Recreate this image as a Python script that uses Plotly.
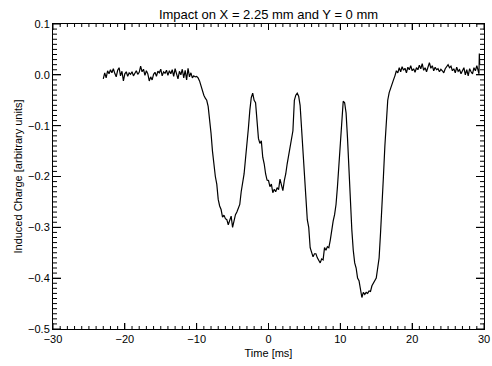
import plotly.graph_objects as go

# Time [ms]
time_ms = [
    -23.0, -22.8, -22.6, -22.4, -22.2, -22.0, -21.8, -21.6, -21.4, -21.2,
    -21.0, -20.8, -20.6, -20.4, -20.2, -20.0, -19.8, -19.6, -19.4, -19.2,
    -19.0, -18.8, -18.6, -18.4, -18.2, -18.0, -17.8, -17.6, -17.4, -17.2,
    -17.0, -16.8, -16.6, -16.4, -16.2, -16.0, -15.8, -15.6, -15.4, -15.2,
    -15.0, -14.8, -14.6, -14.4, -14.2, -14.0, -13.8, -13.6, -13.4, -13.2,
    -13.0, -12.8, -12.6, -12.4, -12.2, -12.0, -11.8, -11.6, -11.4, -11.2,
    -11.0, -10.8, -10.6, -10.4, -10.2, -10.0, -9.8,
    -9.6, -9.4, -9.2, -9.0, -8.8, -8.6, -8.4, -8.2, -8.0, -7.8,
    -7.6, -7.4, -7.2, -7.0, -6.8, -6.6, -6.4, -6.2, -6.0, -5.8,
    -5.6, -5.4, -5.2, -5.0, -4.8, -4.6, -4.4, -4.2, -4.0, -3.8,
    -3.6, -3.4, -3.2, -3.0, -2.8, -2.6, -2.4, -2.2, -2.0, -1.8,
    -1.6, -1.4, -1.2, -1.0, -0.8, -0.6, -0.4, -0.2, 0.0, 0.2,
    0.4, 0.6, 0.8, 1.0, 1.2, 1.4, 1.6, 1.8, 2.0, 2.2,
    2.4, 2.6, 2.8, 3.0, 3.2, 3.4, 3.6, 3.8, 4.0, 4.2,
    4.4, 4.6, 4.8, 5.0, 5.2, 5.4, 5.6, 5.8, 6.0, 6.2,
    6.4, 6.6, 6.8, 7.0, 7.2, 7.4, 7.6, 7.8, 8.0, 8.2,
    8.4, 8.6, 8.8, 9.0, 9.2, 9.4, 9.6, 9.8, 10.0, 10.2,
    10.4, 10.6, 10.8, 11.0, 11.2, 11.4, 11.6, 11.8, 12.0, 12.2,
    12.4, 12.6, 12.8, 13.0, 13.2, 13.4, 13.6, 13.8, 14.0, 14.2,
    14.4, 14.6, 14.8, 15.0, 15.2, 15.4, 15.6, 15.8, 16.0, 16.2,
    16.4, 16.6, 16.8, 17.0, 17.2, 17.4,
    17.6, 17.8, 18.0, 18.2, 18.4, 18.6, 18.8, 19.0, 19.2, 19.4,
    19.6, 19.8, 20.0, 20.2, 20.4, 20.6, 20.8, 21.0, 21.2, 21.4,
    21.6, 21.8, 22.0, 22.2, 22.4, 22.6, 22.8, 23.0, 23.2, 23.4,
    23.6, 23.8, 24.0, 24.2, 24.4, 24.6, 24.8, 25.0, 25.2, 25.4,
    25.6, 25.8, 26.0, 26.2, 26.4, 26.6, 26.8, 27.0, 27.2, 27.4,
    27.6, 27.8, 28.0, 28.2, 28.4, 28.6, 28.8, 29.0, 29.2, 29.3,
    29.35, 29.4,
]

# Induced charge [arbitrary units]
charge = [
    -0.008, 0.004, -0.006, 0.008, 0.002, 0.010, 0.004, 0.012, 0.003, -0.004,
    0.009, 0.014, -0.002, 0.007, -0.012, 0.002, 0.006, -0.003, 0.004, 0.001,
    0.006, -0.002, 0.003, 0.008, 0.001, 0.005, 0.017, 0.006, 0.011, -0.001,
    0.008, 0.002, -0.012, -0.004, -0.010, 0.001, 0.005, -0.003, 0.007, 0.004,
    0.011, -0.002, 0.006, 0.003, 0.009, -0.001, 0.008, 0.002, 0.010, -0.003,
    0.012, 0.004, -0.008, 0.007, 0.000, 0.011, -0.006, 0.009, -0.010, 0.013,
    -0.004, 0.004, -0.006, -0.002, -0.004, -0.003, -0.006,
    -0.012, -0.022, -0.030, -0.040, -0.046, -0.050, -0.062, -0.085, -0.115, -0.150,
    -0.180, -0.200, -0.215, -0.245, -0.258, -0.265, -0.280, -0.276, -0.283, -0.285,
    -0.295, -0.288, -0.278, -0.300, -0.285, -0.275, -0.270, -0.262, -0.255, -0.230,
    -0.215, -0.195, -0.165, -0.140, -0.105, -0.070, -0.045, -0.036, -0.050, -0.055,
    -0.085, -0.125, -0.135, -0.130, -0.162, -0.175, -0.195, -0.207, -0.208, -0.220,
    -0.215, -0.232, -0.225, -0.230, -0.222, -0.226, -0.205, -0.215, -0.228, -0.208,
    -0.195, -0.175, -0.160, -0.148, -0.130, -0.110, -0.050, -0.040, -0.036, -0.042,
    -0.060, -0.100, -0.140, -0.190, -0.240, -0.285, -0.300, -0.340, -0.350, -0.358,
    -0.352, -0.352, -0.360, -0.365, -0.370, -0.362, -0.364, -0.340, -0.345, -0.338,
    -0.340, -0.325, -0.300, -0.288, -0.275, -0.255, -0.220, -0.175, -0.135, -0.080,
    -0.052, -0.055, -0.075, -0.125, -0.185, -0.260, -0.305, -0.345, -0.370, -0.380,
    -0.400, -0.405, -0.425, -0.438, -0.428, -0.432, -0.428, -0.430, -0.425, -0.426,
    -0.415, -0.410, -0.404, -0.400, -0.380, -0.360, -0.310, -0.265, -0.200, -0.140,
    -0.085, -0.050, -0.035, -0.025, -0.018, -0.010,
    -0.002, 0.008, 0.004, 0.014, 0.006, 0.016, 0.009, 0.013, 0.004, 0.015,
    0.010, 0.018, 0.008, 0.012, 0.005, 0.014, 0.010, 0.019, 0.012, 0.022,
    0.009, 0.014, 0.006, 0.016, 0.024, 0.013, 0.018, 0.008, 0.015, 0.010,
    0.012, 0.006, 0.011, 0.008, 0.004, 0.012, 0.016, 0.020, 0.014, 0.017,
    0.008, 0.012, 0.004, 0.015, 0.007, 0.010, 0.002, 0.009, 0.014, 0.000,
    0.010, -0.002, 0.012, 0.006, 0.002, 0.014, 0.008, 0.018, 0.004, 0.002,
    0.042, 0.020,
]

X_RANGE = [-30, 30]
Y_RANGE = [-0.5, 0.1]

W, H = 492, 366
M_L, M_R, M_T, M_B = 53, 8, 24, 37
plot_w = W - M_L - M_R
plot_h = H - M_T - M_B
x_per_px = (X_RANGE[1] - X_RANGE[0]) / plot_w
y_per_px = (Y_RANGE[1] - Y_RANGE[0]) / plot_h

# axis tick frame (IDL style: inside ticks on all four sides)
tick_x, tick_y = [], []
for k in range(0, 61):                       # x ticks every 1 ms, major every 10
    xv = X_RANGE[0] + k
    ln = (6 if k % 10 == 0 else 3) * y_per_px
    tick_x += [xv, xv, None, xv, xv, None]
    tick_y += [Y_RANGE[0], Y_RANGE[0] + ln, None, Y_RANGE[1], Y_RANGE[1] - ln, None]
for k in range(0, 61):                       # y ticks every 0.01, major every 0.1
    yv = round(Y_RANGE[0] + k * 0.01, 3)
    ln = (8 if k % 10 == 0 else 4) * x_per_px
    tick_x += [X_RANGE[0], X_RANGE[0] + ln, None, X_RANGE[1], X_RANGE[1] - ln, None]
    tick_y += [yv, yv, None, yv, yv, None]

fig = go.Figure()
fig.add_trace(go.Scatter(
    x=tick_x, y=tick_y, mode="lines",
    line=dict(color="black", width=1), hoverinfo="skip",
    showlegend=False, connectgaps=False,
))
fig.add_trace(go.Scatter(
    x=time_ms, y=charge, mode="lines",
    line=dict(color="black", width=1.2),
    showlegend=False, hoverinfo="skip",
))

font_family = "Liberation Sans, Arial, Helvetica, sans-serif"

fig.update_layout(
    width=W, height=H,
    margin=dict(l=M_L, r=M_R, t=M_T, b=M_B, autoexpand=False),
    paper_bgcolor="white", plot_bgcolor="white",
    font=dict(family=font_family, size=11, color="black"),
    hovermode=False,
    title=dict(text="Impact on X = 2.25 mm and Y = 0 mm",
               x=(M_L + W - M_R) / 2 / W, xanchor="center",
               y=1 - 14 / H, yanchor="middle",
               font=dict(size=13, color="black"), automargin=False),
    xaxis=dict(
        range=X_RANGE, tickmode="linear", tick0=-30, dtick=10,
        ticks="inside", ticklen=6, tickwidth=1, tickcolor="black",
        showline=True, linecolor="black", linewidth=1, mirror="allticks",
        showgrid=False, zeroline=False, automargin=False,
        title=dict(text="Time [ms]", standoff=5, font=dict(size=11)),
        tickfont=dict(size=11),
    ),
    yaxis=dict(
        range=Y_RANGE, tickmode="linear", tick0=-0.5, dtick=0.1, tickformat=".1f",
        ticks="inside", ticklen=8, tickwidth=1, tickcolor="black",
        showline=True, linecolor="black", linewidth=1, mirror="allticks",
        showgrid=False, zeroline=False, automargin=False,
        title=dict(text="Induced Charge [arbitrary units]", standoff=3, font=dict(size=11)),
        tickfont=dict(size=11),
    ),
)

fig.write_html("out.html", config={"displayModeBar": False, "staticPlot": True},
               post_script="document.body.style.margin='0px';")
